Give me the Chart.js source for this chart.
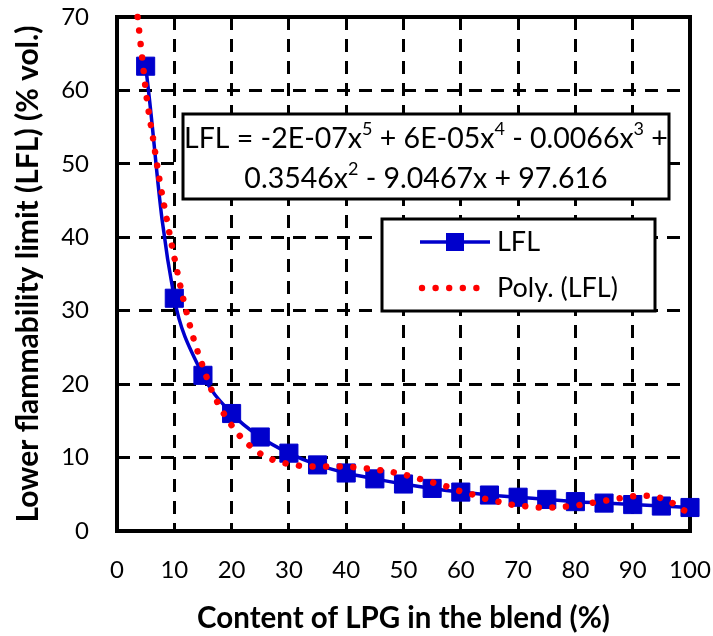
<!DOCTYPE html>
<html>
<head>
<meta charset="utf-8">
<script src="https://cdn.jsdelivr.net/npm/chart.js@4/dist/chart.umd.min.js"></script>
<style>
  html, body { margin: 0; padding: 0; background: #ffffff; }
  #wrap { width: 713px; height: 636px; }
</style>
</head>
<body>
<div id="wrap"><canvas id="chart" width="713" height="636"></canvas></div>
<script>
// LPG content in the blend (%) and measured lower flammability limit (% vol.)
const lpgContent = [5, 10, 15, 20, 25, 30, 35, 40, 45, 50, 55, 60, 65, 70, 75, 80, 85, 90, 95, 100];
const lflValues  = [63.3, 31.7, 21.2, 16.0, 12.8, 10.6, 9.0, 7.9, 7.1, 6.4, 5.8, 5.3, 4.9, 4.6, 4.3, 4.0, 3.8, 3.6, 3.4, 3.2];

// 5th-order polynomial trendline, as plotted
const trendX = [3.6, 4.4, 5.2, 6.3, 7.4, 8.7, 10.1, 11.6, 13.4, 14.9, 16.5, 18.7, 20.0, 21.5, 23.2, 25.1, 27.2, 29.5,
                31.8, 34.2, 38.8, 43.6, 48.2, 50.5, 52.8, 55.1, 57.4, 59.6, 61.9, 64.2, 66.5, 68.8, 71.0, 73.3,
                75.7, 78.0, 80.4, 82.7, 85.0, 87.3, 89.6, 92.0, 94.4, 96.5, 98.5, 100];
const trendY = [70.0, 64.4, 58.9, 53.4, 47.9, 42.4, 36.9, 31.5, 26.1, 22.6, 19.2, 15.9, 14.4, 12.9, 11.6, 10.5, 9.7, 9.2,
                8.9, 8.8, 8.8, 8.5, 8.0, 7.6, 7.1, 6.6, 6.1, 5.5, 5.0, 4.4, 4.0, 3.6, 3.4, 3.2,
                3.2, 3.3, 3.5, 3.8, 4.1, 4.4, 4.7, 4.8, 4.6, 4.0, 3.0, 2.4];

// Axis ranges and tick step
const xRange = [0, 100];
const yRange = [0, 70];
const xStep = 10;
const yStep = 10;

const seriesName = 'LFL';
const trendName = 'Poly. (LFL)';
const eqLine1 = [['LFL = -2E-07x', 0], ['5', 1], [' + 6E-05x', 0], ['4', 1], [' - 0.0066x', 0], ['3', 1], [' +', 0]];
const eqLine2 = [['0.3546x', 0], ['2', 1], [' - 9.0467x + 97.616', 0]];

const BLUE = '#0000CC';
const RED = '#FF0000';
const FONT = 'Lato, "Open Sans", "Noto Sans", sans-serif';

// Solid frame around the plotting area (drawn under the series)
const framePlugin = {
  id: 'frame',
  beforeDatasetsDraw(chart) {
    const { ctx, chartArea: a } = chart;
    ctx.save();
    ctx.strokeStyle = '#000';
    ctx.lineWidth = 4;
    ctx.setLineDash([]);
    ctx.strokeRect(a.left, a.top, a.right - a.left, a.bottom - a.top);
    ctx.restore();
  }
};

function drawRich(ctx, parts, cx, cy, size, supSize) {
  const widths = parts.map(([t, sup]) => {
    ctx.font = (sup ? supSize : size) + 'px ' + FONT;
    return ctx.measureText(t).width;
  });
  const total = widths.reduce((s, w) => s + w, 0);
  let x = cx - total / 2;
  parts.forEach(([t, sup], i) => {
    ctx.font = (sup ? supSize : size) + 'px ' + FONT;
    ctx.fillText(t, x, sup ? cy - size * 0.36 : cy);
    x += widths[i];
  });
}

// Trendline equation box and series legend box
const boxesPlugin = {
  id: 'boxes',
  afterDatasetsDraw(chart) {
    const { ctx, chartArea: a } = chart;
    ctx.save();
    ctx.setLineDash([]);
    ctx.lineWidth = 3;
    ctx.strokeStyle = '#000';

    // equation box
    const eq = { l: a.left + 66, t: a.top + 97, r: a.left + 552, b: a.top + 182 };
    ctx.fillStyle = '#fff';
    ctx.fillRect(eq.l, eq.t, eq.r - eq.l, eq.b - eq.t);
    ctx.strokeRect(eq.l, eq.t, eq.r - eq.l, eq.b - eq.t);
    ctx.fillStyle = '#000';
    ctx.textBaseline = 'middle';
    ctx.textAlign = 'left';
    const ecx = (eq.l + eq.r) / 2;
    drawRich(ctx, eqLine1, ecx, eq.t + 25, 28.5, 18);
    drawRich(ctx, eqLine2, ecx, eq.t + 65, 28.5, 18);

    // legend box
    const lg = { l: a.left + 265, t: a.top + 202, r: a.left + 538, b: a.top + 294 };
    ctx.fillStyle = '#fff';
    ctx.fillRect(lg.l, lg.t, lg.r - lg.l, lg.b - lg.t);
    ctx.strokeRect(lg.l, lg.t, lg.r - lg.l, lg.b - lg.t);

    const y1 = lg.t + 23, y2 = lg.t + 69;
    const sx0 = lg.l + 38, sx1 = lg.l + 108;
    ctx.strokeStyle = BLUE;
    ctx.lineWidth = 3.5;
    ctx.beginPath();
    ctx.moveTo(sx0, y1);
    ctx.lineTo(sx1, y1);
    ctx.stroke();
    ctx.fillStyle = BLUE;
    ctx.fillRect((sx0 + sx1) / 2 - 9, y1 - 9, 18, 18);

    ctx.fillStyle = RED;
    for (let i = 0; i < 5; i++) {
      ctx.beginPath();
      ctx.arc(sx0 + 2 + i * 13.6, y2, 3.2, 0, Math.PI * 2);
      ctx.fill();
    }

    ctx.fillStyle = '#000';
    ctx.font = '27px ' + FONT;
    ctx.textAlign = 'left';
    ctx.textBaseline = 'middle';
    ctx.fillText(seriesName, lg.l + 115, y1);
    ctx.fillText(trendName, lg.l + 115, y2);
    ctx.restore();
  }
};

const gridStyle = { color: '#000', lineWidth: 3, drawTicks: false };
const borderStyle = { display: false, dash: [13, 9] };

new Chart(document.getElementById('chart'), {
  type: 'line',
  data: {
    datasets: [
      {
        label: seriesName,
        data: lpgContent.map((x, i) => ({ x, y: lflValues[i] })),
        borderColor: BLUE,
        backgroundColor: BLUE,
        borderWidth: 3.5,
        pointStyle: 'rect',
        pointRadius: 12.8,
        pointBorderWidth: 1,
        pointBorderColor: BLUE,
        pointBackgroundColor: BLUE,
        tension: 0.4,
        clip: false,
        order: 2
      },
      {
        label: trendName,
        data: trendX.map((x, i) => ({ x, y: trendY[i] })),
        borderColor: RED,
        borderWidth: 6.5,
        borderDash: [0.001, 13.6],
        borderCapStyle: 'round',
        pointRadius: 0,
        cubicInterpolationMode: 'monotone',
        clip: false,
        order: 1
      }
    ]
  },
  options: {
    responsive: false,
    animation: false,
    devicePixelRatio: 1,
    layout: { autoPadding: false, padding: { left: 0, right: 23, top: 17, bottom: 0 } },
    plugins: { legend: { display: false }, tooltip: { enabled: false } },
    scales: {
      x: {
        type: 'linear',
        min: xRange[0], max: xRange[1],
        grid: gridStyle,
        border: borderStyle,
        ticks: { stepSize: xStep, padding: 25, color: '#000', font: { family: FONT, size: 24 } },
        title: {
          display: true,
          text: 'Content of LPG in the blend (%)',
          color: '#000',
          font: { family: FONT, size: 29.5, weight: 'bold' },
          padding: { top: 0, bottom: 0 }
        },
        afterFit(scale) {
          scale.height = 105;
          scale.paddingLeft = 0;
          scale.paddingRight = 0;
        }
      },
      y: {
        type: 'linear',
        min: yRange[0], max: yRange[1],
        grid: gridStyle,
        border: borderStyle,
        ticks: { stepSize: yStep, padding: 28, color: '#000', font: { family: FONT, size: 24 } },
        title: {
          display: true,
          text: 'Lower flammability limit (LFL) (% vol.)',
          color: '#000',
          font: { family: FONT, size: 30, weight: 'bold' },
          padding: { top: 10, bottom: 0 }
        },
        afterFit(scale) {
          scale.width = 117;
          scale.paddingTop = 0;
          scale.paddingBottom = 0;
        }
      }
    }
  },
  plugins: [framePlugin, boxesPlugin]
});
</script>
</body>
</html>
